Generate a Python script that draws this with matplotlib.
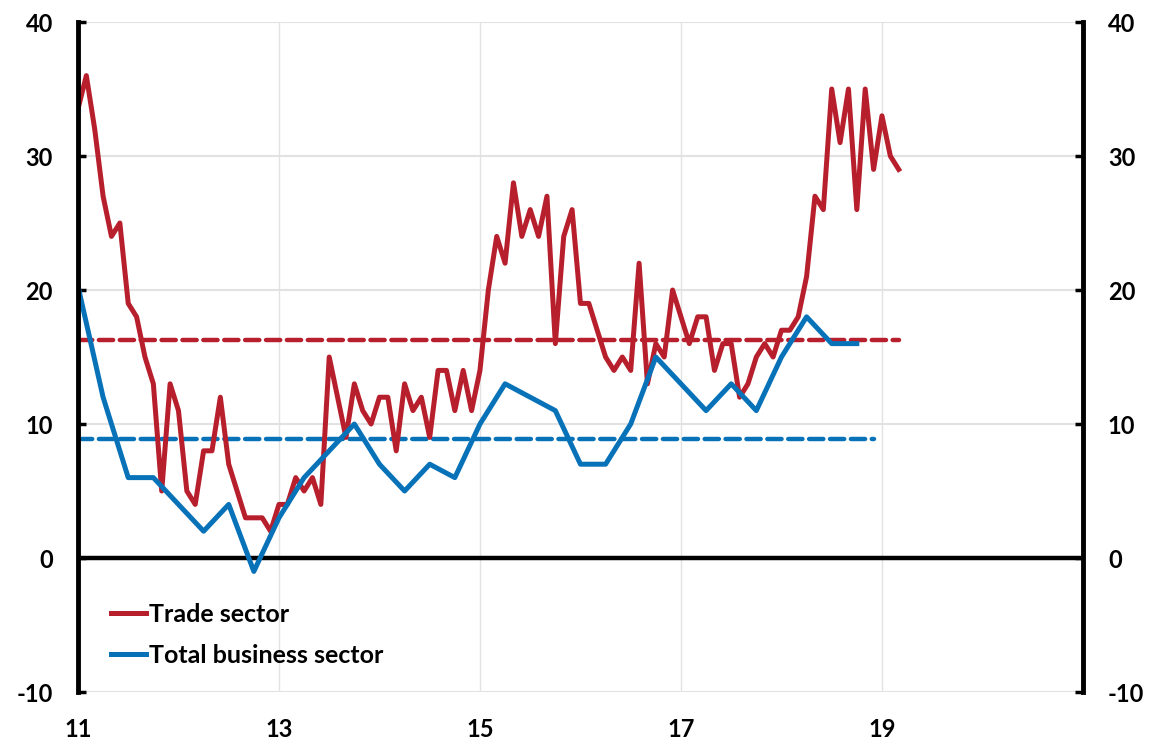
import numpy as np
import matplotlib
matplotlib.use("Agg")
import matplotlib.pyplot as plt

# Trade sector, monthly from Jan 2011
trade = [33.5, 36, 32, 27, 24, 25, 19, 18, 15, 13,
         5, 13, 11, 5, 4, 8, 8, 12, 7, 5,
         3, 3, 3, 2, 4, 4, 6, 5, 6, 4,
         15, 12, 9, 13, 11, 10, 12, 12, 8, 13,
         11, 12, 9, 14, 14, 11, 14, 11, 14, 20,
         24, 22, 28, 24, 26, 24, 27, 16, 24, 26,
         19, 19, 17, 15, 14, 15, 14, 22, 13, 16,
         15, 20, 18, 16, 18, 18, 14, 16, 16, 12,
         13, 15, 16, 15, 17, 17, 18, 21, 27, 26,
         35, 31, 35, 26, 35, 29, 33, 30, 29]

# Total business sector, quarterly from Jan 2011
total = [20.3, 12, 6, 6, 4, 2, 4, -1, 3, 6, 8, 10,
         7, 5, 7, 6, 10, 13, 12, 11, 7, 7, 10, 15,
         13, 11, 13, 11, 15, 18, 16, 16]

trade_avg = 16.3
total_avg = 8.9
total_avg_months = 96

x_ticks = [11, 13, 15, 17, 19]
y_ticks = [-10, 0, 10, 20, 30, 40]

red = "#B81F2D"
blue = "#0872B9"

plt.rcParams["font.family"] = ["Lato", "DejaVu Sans"]
plt.rcParams["font.weight"] = "bold"

x_trade = 11 + np.arange(len(trade)) / 12
x_total = 11 + np.arange(len(total)) * 3 / 12

fig = plt.figure(figsize=(11.5, 7.41), dpi=100)
ax = fig.add_axes([0.0678, 0.0661, 0.8739, 0.9042])

# grid
for v in [13, 15, 17, 19, 21]:
    ax.axvline(v, color="#e2e2e2", lw=1, zorder=0)
for v in [-10, 10, 20, 30, 40]:
    ax.axhline(v, color="#e2e2e2", lw=1.5, zorder=0)
ax.axhline(0, color="black", lw=3.2, zorder=1)

# averages
ax.plot([x_trade[0], x_trade[-1]], [trade_avg, trade_avg], color=red, lw=3.2,
        dashes=(3.2, 1.5), dash_capstyle="round", zorder=2)
x_avg = 11 + np.arange(total_avg_months) / 12
ax.plot(x_avg, [total_avg] * total_avg_months, color=blue, lw=3.2,
        dashes=(3.2, 1.5), dash_capstyle="round", zorder=2)

ax.plot(x_trade, trade, color=red, lw=3.6, label="Trade sector", zorder=3,
        solid_joinstyle="round")
ax.plot(x_total, total, color=blue, lw=3.6, label="Total business sector", zorder=3,
        solid_joinstyle="round")

ax.set_xlim(11, 21)
ax.set_ylim(-10, 40)
ax.set_xticks(x_ticks)
ax.set_xticklabels([str(v) for v in x_ticks], fontsize=17, fontweight="bold")
ax.set_yticks(y_ticks)
ax.set_yticklabels([str(v) for v in y_ticks], fontsize=17, fontweight="bold")

for s in ["top", "bottom"]:
    ax.spines[s].set_visible(False)
for s in ["left", "right"]:
    ax.spines[s].set_linewidth(3.5)
    ax.spines[s].set_zorder(5)

ax.tick_params(axis="x", length=0, pad=19)
ax.tick_params(axis="y", direction="in", length=6, width=2.5, left=True, right=True,
               labelleft=True, labelright=True, pad=18)

leg = ax.legend(loc="lower left", bbox_to_anchor=(0.01, 0.004), frameon=False,
                handlelength=1.4, handletextpad=0.15, labelspacing=0.72,
                prop={"weight": "bold", "size": 18})

fig.savefig("out.png", dpi=100)
